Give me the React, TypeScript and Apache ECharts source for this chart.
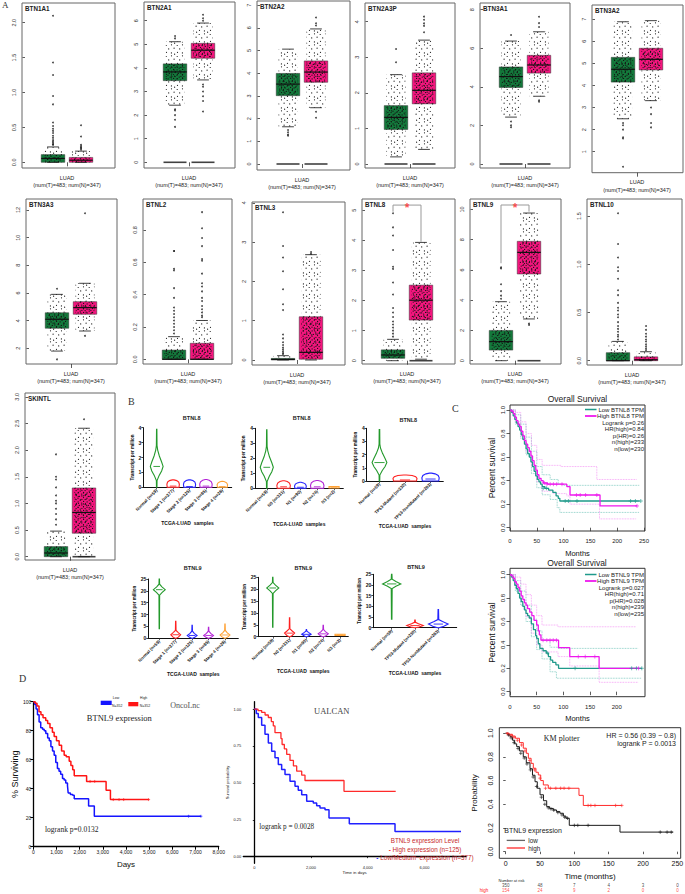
import React, { useEffect, useRef } from "react";
import * as echarts from "echarts";

/* ======================= DATA ======================= */
// ---- Panel A: GEPIA box plots, LUAD (T = tumour, green; N = normal, pink)
const geneNames = ["BTN1A1", "BTN2A1", "BTN2A2", "BTN2A3P", "BTN3A1", "BTN3A2", "BTN3A3", "BTNL2", "BTNL3", "BTNL8", "BTNL9", "BTNL10", "SKINTL"];
// [lower whisker, Q1, median, Q3, upper whisker]
const tumourBoxes = [
  [0, 0, 0.055, 0.11, 0.22],
  [2.42, 3.46, 3.83, 4.17, 5.11],
  [1.64, 3.01, 3.52, 3.99, 5.06],
  [0.2, 0.97, 1.31, 1.64, 2.51],
  [2.43, 3.97, 4.53, 5.03, 6.37],
  [2.49, 4.15, 4.73, 5.27, 6.88],
  [1.8, 3.45, 4.1, 4.57, 5.9],
  [0, 0, 0, 0.057, 0.14],
  [0, 0, 0.015, 0.04, 0.11],
  [0, 0.08, 0.19, 0.36, 0.71],
  [0, 0.7, 1.26, 2.0, 3.9],
  [0, 0, 0, 0.083, 0.2],
  [0, 0, 0.07, 0.19, 0.48],
];
const normalBoxes = [
  [0, 0, 0.03, 0.07, 0.16],
  [3.49, 4.41, 4.75, 5.04, 5.9],
  [2.48, 3.6, 4.05, 4.54, 5.95],
  [0.41, 1.69, 2.07, 2.56, 3.48],
  [3.51, 4.71, 5.13, 5.63, 6.85],
  [3.31, 4.7, 5.18, 5.68, 6.93],
  [3.25, 4.46, 4.94, 5.37, 6.7],
  [0, 0, 0, 0.099, 0.24],
  [0, 0.02, 0.195, 1.1, 2.68],
  [0.05, 1.35, 2.01, 2.51, 3.93],
  [2.76, 5.73, 7.16, 7.89, 9.76],
  [0, 0, 0.01, 0.04, 0.093],
  [0, 0.44, 0.83, 1.29, 2.41],
];
const tumourOutliers = [
  [2.1, 1.43, 1.25, 0.95, 0.83, 0.57, 0.52, 0.48, 0.45, 0.42, 0.38, 0.35, 0.32, 0.3, 0.28, 0.26, 0.25],
  [5.35, 5.25, 2.25, 2.2, 2.0, 1.8, 1.5],
  [1.5, 1.4, 1.3, 1.25],
  [3.23, 2.86],
  [6.68, 2.2, 2.0, 1.9],
  [2.3, 2.2, 2.0, 1.65, 1.6, 0.32],
  [6.3, 1.2],
  [0.67, 0.67, 0.56, 0.55, 0.44, 0.38, 0.32, 0.3, 0.28, 0.26, 0.24, 0.22, 0.2, 0.18, 0.16],
  [3.76, 2.9, 2.61, 2.26, 1.8, 1.42, 1.27, 0.65, 0.55, 0.45, 0.38, 0.32, 0.27, 0.22, 0.18, 0.15],
  [4.9, 4.43, 4.16, 3.68, 3.12, 3.05, 2.6, 2.2, 1.75, 1.6, 1.45, 1.3, 1.2, 1.1, 1.0, 0.9, 0.8],
  [6.17, 6.1, 5.05, 4.6, 4.3, 4.1],
  [1.53, 1.21, 1.07, 0.97, 0.93, 0.85, 0.73, 0.68, 0.6, 0.55, 0.52, 0.48, 0.45, 0.4, 0.36, 0.33, 0.3, 0.27, 0.25, 0.22],
  [1.92, 1.5, 1.45, 1.3, 1.15, 1.05, 1.0, 0.9, 0.8, 0.7, 0.6],
];
const normalOutliers = [
  [0.53, 0.37, 0.25, 0.23, 0.21, 0.2, 0.18],
  [6.25, 6.1, 6.0, 3.3, 3.2, 3.0, 2.8, 2.6, 2.15],
  [6.45, 6.2, 6.1, 2.3, 2.04],
  [4.14, 4.05, 3.95, 3.88, 3.7],
  [7.63, 7.3, 7.1, 3.3, 3.23],
  [3.0, 2.7, 2.3, 2.1],
  [11.76, 2.9],
  [0.91, 0.81, 0.75, 0.7, 0.62, 0.61, 0.53, 0.47, 0.45, 0.42, 0.38, 0.36, 0.33, 0.31, 0.29, 0.27, 0.26],
  [2.75, 2.7],
  [],
  [2.36, 2.45],
  [0.36, 0.32, 0.28, 0.25, 0.22, 0.2, 0.17, 0.15, 0.13, 0.11],
  [2.58],
];
// 1 = a bar drawn at value 0 under the box [tumour, normal]
const zeroBars = [[0, 0], [1, 1], [1, 1], [1, 1], [1, 1], [0, 0], [0, 0], [0, 0], [0, 0], [0, 1], [0, 1], [0, 0], [0, 1]];
const boxTickValues = [
  [0, 0.5, 1, 1.5, 2], [0, 1, 2, 3, 4, 5, 6], [0, 1, 2, 3, 4, 5, 6, 7], [0, 1, 2, 3, 4], [0, 2, 4, 6, 8], [1, 2, 3, 4, 5, 6, 7],
  [2, 4, 6, 8, 10, 12], [0, 0.2, 0.4, 0.6, 0.8], [0, 1, 2, 3, 4], [0, 1, 2, 3, 4, 5], [0, 2, 4, 6, 8, 10], [0, 0.5, 1, 1.5],
  [0, 0.5, 1, 1.5, 2, 2.5, 3],
];
const boxTickDecimals = [1, 0, 0, 0, 0, 0, 0, 1, 0, 0, 0, 1, 1];
const sampleLabel = "LUAD\n(num(T)=483; num(N)=347)";
const bracketBTNL8 = [[1, 4.95], [1, 5.17], [2, 5.17], [2, 3.95]];
const bracketBTNL9 = [[1, 6.44], [1, 10.29], [2, 10.29], [2, 9.85]];
const starBTNL8 = [[1.5, 5.17]];
const starBTNL9 = [[1.5, 10.29]];

// ---- Panel B: UALCAN violins, [value, half-width] profiles
const stageCats = ["Normal (n=59)", "Stage 1 (n=277)", "Stage 2 (n=125)", "Stage 3 (n=85)", "Stage 4 (n=28)"];
const nodalCats = ["Normal (n=59)", "N0 (n=331)", "N1 (n=90)", "N2 (n=74)", "N3 (n=2)"];
const tp53Cats = ["Normal (n=59)", "TP53-Mutant (n=230)", "TP53-NonMutant (n=283)"];
const btnl8Normal = [[0, 0.015], [0.45, 0.02], [0.8, 0.15], [1.1, 0.3], [1.4, 0.39], [1.7, 0.3], [2.1, 0.16], [2.5, 0.06], [2.8, 0.02], [3.9, 0.01]];
const btnl8NormalTp = [[0, 0.01], [0.45, 0.015], [0.8, 0.11], [1.1, 0.22], [1.4, 0.29], [1.7, 0.22], [2.1, 0.12], [2.5, 0.04], [2.8, 0.015], [3.9, 0.01]];
const btnl8StageProfiles = [
  btnl8Normal,
  [[0, 0.36], [0.2, 0.38], [0.35, 0.34], [0.45, 0.22], [0.5, 0.05]],
  [[0, 0.35], [0.2, 0.37], [0.35, 0.33], [0.45, 0.2], [0.5, 0.05]],
  [[0, 0.36], [0.22, 0.38], [0.37, 0.33], [0.47, 0.2], [0.52, 0.05]],
  [[0, 0.3], [0.18, 0.32], [0.3, 0.26], [0.37, 0.14], [0.4, 0.03]],
];
const btnl8StageMedians = [1.4, 0.08, 0.05, 0.08, 0.05];
const btnl8NodalProfiles = [
  btnl8Normal,
  [[0, 0.38], [0.2, 0.4], [0.35, 0.35], [0.45, 0.22], [0.5, 0.05]],
  [[0, 0.33], [0.15, 0.35], [0.28, 0.3], [0.36, 0.18], [0.4, 0.04]],
  [[0, 0.38], [0.2, 0.4], [0.37, 0.35], [0.47, 0.22], [0.52, 0.05]],
  [[0.02, 0.3], [0.12, 0.3]],
];
const btnl8NodalMedians = [1.4, 0.1, 0.07, 0.1, 0.08];
const btnl8Tp53Profiles = [
  btnl8NormalTp,
  [[0, 0.45], [0.2, 0.47], [0.33, 0.42], [0.42, 0.28], [0.46, 0.05]],
  [[0, 0.32], [0.25, 0.34], [0.42, 0.3], [0.54, 0.18], [0.6, 0.04]],
];
const btnl8Tp53Medians = [1.4, 0.08, 0.15];
const btnl9Normal = [[4, 0.01], [18.2, 0.02], [19.3, 0.16], [20.5, 0.36], [21.7, 0.16], [22.8, 0.02], [25, 0.01]];
const btnl9NormalTp = [[4, 0.01], [18.3, 0.02], [19.4, 0.18], [20.5, 0.39], [21.6, 0.18], [22.7, 0.02], [25, 0.01]];
const btnl9StageProfiles = [
  btnl9Normal,
  [[0, 0.03], [0.5, 0.16], [1.5, 0.3], [2.5, 0.14], [3.3, 0.02], [7.2, 0.01]],
  [[0, 0.03], [0.4, 0.16], [1.2, 0.3], [2.1, 0.13], [3.0, 0.02], [5.5, 0.01]],
  [[0, 0.03], [0.4, 0.16], [1.2, 0.3], [2.1, 0.13], [3.0, 0.02], [4.6, 0.01]],
  [[0, 0.03], [0.5, 0.16], [1.4, 0.3], [2.4, 0.13], [3.3, 0.02], [6.0, 0.01]],
];
const btnl9StageMedians = [20.5, 1.5, 1.2, 1.2, 1.4];
const btnl9NodalProfiles = [
  btnl9Normal,
  [[0, 0.03], [0.5, 0.16], [1.5, 0.3], [2.5, 0.14], [3.3, 0.02], [8.0, 0.01]],
  [[0, 0.03], [0.4, 0.14], [1.0, 0.28], [1.8, 0.12], [2.3, 0.03], [3.0, 0.01]],
  [[0, 0.03], [0.4, 0.16], [1.2, 0.3], [2.1, 0.13], [3.0, 0.02], [4.8, 0.01]],
  [[0.5, 0.3], [1.0, 0.3]],
];
const btnl9NodalMedians = [20.5, 1.5, 1.0, 1.2, 0.75];
const btnl9Tp53Profiles = [
  btnl9NormalTp,
  [[0, 0.03], [0.3, 0.18], [1.0, 0.35], [1.8, 0.15], [2.5, 0.02], [3.6, 0.01]],
  [[0, 0.03], [0.5, 0.2], [1.7, 0.42], [2.9, 0.18], [3.8, 0.02], [8.5, 0.01]],
];
const btnl9Tp53Medians = [20.5, 1.0, 1.7];

// ---- Panel C: GEPIA overall survival (months, probability)
const c1Low = [[0, 1], [3, 0.98], [6, 0.95], [9, 0.92], [12, 0.89], [15, 0.86], [18, 0.83], [21, 0.79], [24, 0.75], [27, 0.71], [30, 0.67], [33, 0.63], [36, 0.6], [39, 0.56], [42, 0.52], [45, 0.48], [48, 0.44], [51, 0.41], [54, 0.39], [57, 0.37], [60, 0.35], [65, 0.335], [72, 0.32], [80, 0.3], [86, 0.27], [90, 0.25], [93, 0.227], [242, 0.227]];
const c1High = [[0, 1], [3, 0.99], [6, 0.97], [9, 0.94], [12, 0.91], [15, 0.88], [18, 0.86], [21, 0.82], [24, 0.78], [27, 0.74], [30, 0.71], [33, 0.68], [36, 0.65], [39, 0.61], [42, 0.57], [45, 0.53], [48, 0.49], [51, 0.45], [54, 0.42], [58, 0.4], [62, 0.38], [70, 0.37], [106, 0.35], [112, 0.278], [168, 0.185], [237, 0.185]];
const c1LowUpper = [[0, 1], [10, 0.96], [20, 0.88], [30, 0.77], [40, 0.65], [50, 0.52], [60, 0.45], [75, 0.41], [90, 0.37], [100, 0.36], [242, 0.36]];
const c1LowLower = [[0, 1], [10, 0.88], [20, 0.76], [30, 0.62], [40, 0.46], [50, 0.34], [60, 0.28], [75, 0.24], [88, 0.17], [93, 0.13], [242, 0.13]];
const c1HighUpper = [[0, 1], [10, 0.98], [20, 0.9], [30, 0.8], [40, 0.7], [50, 0.58], [60, 0.53], [95, 0.52], [162, 0.41], [236, 0.41]];
const c1HighLower = [[0, 1], [10, 0.9], [20, 0.78], [30, 0.64], [40, 0.52], [50, 0.39], [60, 0.31], [80, 0.29], [106, 0.27], [112, 0.2], [167, 0.075], [236, 0.075]];
const c1LowCensor = [[62, 0.335], [68, 0.335], [103, 0.227], [109, 0.227], [125, 0.227], [225, 0.227], [234, 0.227], [244, 0.227]];
const c1HighCensor = [[64, 0.38], [69, 0.37], [75, 0.37], [81, 0.37], [87, 0.37], [97, 0.37], [124, 0.278], [131, 0.278], [141, 0.278], [162, 0.278], [237, 0.185]];

const c2Low = [[0, 1], [3, 0.98], [6, 0.95], [9, 0.91], [12, 0.88], [15, 0.84], [18, 0.8], [21, 0.77], [24, 0.73], [27, 0.7], [30, 0.67], [33, 0.65], [36, 0.63], [40, 0.58], [44, 0.53], [48, 0.48], [50, 0.456], [53, 0.41], [56, 0.37], [62, 0.35], [68, 0.33], [72, 0.3], [76, 0.27], [80, 0.25], [86, 0.23], [91, 0.2], [247, 0.2]];
const c2High = [[0, 1], [3, 0.99], [6, 0.97], [9, 0.94], [12, 0.92], [15, 0.89], [18, 0.86], [21, 0.82], [24, 0.79], [27, 0.76], [30, 0.74], [33, 0.71], [37, 0.68], [41, 0.65], [45, 0.61], [50, 0.57], [53, 0.52], [55, 0.485], [58, 0.44], [91, 0.376], [112, 0.3], [167, 0.2], [241, 0.2]];
const c2LowUpper = [[0, 1], [10, 0.95], [20, 0.86], [30, 0.74], [40, 0.62], [50, 0.52], [60, 0.44], [75, 0.38], [90, 0.37], [240, 0.37]];
const c2LowLower = [[0, 1], [10, 0.86], [20, 0.74], [30, 0.6], [40, 0.47], [50, 0.36], [60, 0.28], [75, 0.17], [87, 0.115], [247, 0.115]];
const c2HighUpper = [[0, 1], [10, 0.98], [20, 0.92], [30, 0.83], [40, 0.74], [50, 0.65], [60, 0.57], [90, 0.555], [236, 0.555]];
const c2HighLower = [[0, 1], [10, 0.9], [20, 0.78], [30, 0.64], [40, 0.5], [50, 0.4], [60, 0.34], [90, 0.3], [112, 0.22], [167, 0.08], [240, 0.08]];
const c2LowCensor = [[70, 0.33], [122, 0.2], [228, 0.2], [237, 0.2], [247, 0.2]];
const c2HighCensor = [[62, 0.44], [69, 0.44], [75, 0.44], [81, 0.44], [87, 0.44], [128, 0.3], [141, 0.3], [159, 0.3], [241, 0.2]];

// ---- Panel D
// OncoLnc (days, % surviving)
const d1Low = [[0, 100], [60, 98], [120, 95], [180, 91], [250, 86], [320, 82], [400, 81], [470, 80], [540, 78], [620, 75], [690, 73], [760, 69], [830, 66], [900, 63], [970, 58], [1040, 54], [1110, 52], [1180, 50], [1260, 47], [1330, 46], [1400, 44], [1475, 42], [1505, 37], [1600, 36], [1700, 35.5], [1766, 33], [2386, 28], [2633, 21], [7232, 21]];
const d1High = [[0, 100], [80, 99], [160, 97], [247, 93], [330, 91], [420, 89], [537, 87], [620, 85], [720, 82], [824, 79], [900, 76], [1000, 73], [1115, 70], [1220, 66], [1332, 63], [1420, 62], [1549, 59], [1622, 56], [1700, 53], [1766, 49], [2300, 45], [3141, 39], [3328, 32.5], [4976, 32.5]];
const d1LowCensor = [[6700, 21], [7232, 21]];
const d1HighCensor = [[2450, 45], [2650, 45], [3450, 32.5], [3700, 32.5], [3900, 32.5], [4976, 32.5]];
// UALCAN (days, probability)
const d2High = [[0, 1], [130, 0.99], [261, 0.977], [380, 0.96], [494, 0.943], [600, 0.915], [670, 0.886], [730, 0.84], [940, 0.8], [980, 0.76], [1060, 0.73], [1143, 0.693], [1259, 0.652], [1380, 0.615], [1495, 0.579], [1672, 0.552], [1788, 0.516], [3164, 0.443], [4988, 0.443]];
const d2Low = [[0, 1], [70, 0.97], [141, 0.943], [260, 0.89], [377, 0.829], [495, 0.77], [613, 0.715], [730, 0.67], [847, 0.625], [965, 0.59], [1083, 0.557], [1259, 0.511], [1436, 0.477], [1550, 0.45], [1672, 0.42], [1848, 0.375], [2081, 0.364], [2200, 0.345], [2317, 0.33], [2494, 0.318], [2635, 0.262], [3351, 0.223], [4963, 0.17], [7291, 0.17]];
// KM plotter (months, probability)
const d3Low = [[0, 1], [3, 0.985], [6.3, 0.97], [10, 0.94], [13, 0.91], [16, 0.886], [20, 0.85], [25.6, 0.8], [30, 0.75], [35.4, 0.7], [39, 0.645], [42.7, 0.59], [46, 0.535], [50, 0.48], [55, 0.43], [59.7, 0.38], [64, 0.365], [69.3, 0.352], [74, 0.338], [79, 0.324], [84, 0.3], [87.8, 0.282], [92.6, 0.222], [166.4, 0.165], [244, 0.165]];
const d3High = [[0, 1], [5, 0.99], [10, 0.975], [14, 0.957], [20, 0.92], [25.6, 0.873], [30, 0.83], [33, 0.788], [37, 0.745], [40.2, 0.704], [44, 0.67], [47.5, 0.647], [51, 0.6], [54.8, 0.563], [62, 0.535], [106.7, 0.475], [113, 0.39], [169, 0.39]];
const d3LowCensor = [[4, 0.985], [8, 0.96], [12, 0.92], [18, 0.87], [22, 0.83], [27, 0.79], [31, 0.74], [36, 0.69], [40, 0.63], [45, 0.55], [52, 0.46], [57, 0.4], [62, 0.37], [66, 0.36], [70, 0.35], [76, 0.33], [82, 0.31], [86, 0.29], [90, 0.282], [100, 0.222], [105, 0.222], [120, 0.222], [225, 0.165], [235, 0.165], [241, 0.165]];
const d3HighCensor = [[3, 0.995], [8, 0.98], [12, 0.965], [17, 0.94], [23, 0.9], [28, 0.85], [35, 0.77], [42, 0.69], [50, 0.62], [58, 0.535], [65, 0.535], [73, 0.535], [80, 0.535], [85, 0.535], [92, 0.535], [120, 0.39], [124, 0.39], [130, 0.39], [160, 0.39], [169, 0.39]];
const riskTimes = [0, 50, 100, 150, 200, 250];
const riskLow = [350, 48, 7, 4, 3, 0];
const riskHigh = [154, 24, 9, 2, 0, 0];

/* ======================= LAYOUT & STYLE ======================= */
const SANS = "'Liberation Sans', Arial, Helvetica, sans-serif";
const SERIF = "'Liberation Serif', 'Times New Roman', serif";
const GREEN = "#13793b";
const PINK = "#f4157e";
const TEAL = "#1f9a8b";
const MAGENTA = "#ee18ee";
const TEAL_CI = "#6cc3b8";
const MAGENTA_CI = "#f48ef4";
const VIOLIN5 = ["#23992b", "#ff2020", "#2323ff", "#b324d6", "#ffa235"];
const VIOLIN3 = ["#23992b", "#ff2020", "#2323ff"];

// [left, top, right, bottom] of each GEPIA frame
const boxFrames = [
  [22, 3, 115, 168], [144, 2, 235, 168], [257, 1, 350, 170], [365, 3, 455, 168], [480, 3, 570, 168], [592, 5, 683, 172.7],
  [26, 199, 117, 364], [143, 199, 232, 364], [252, 202, 345, 365], [362, 199, 455, 364], [470, 199, 561, 364], [587, 199, 682, 365],
  [25, 393, 115, 560],
];
// [pixel y of reference value, reference value, pixels per unit]
const boxYCal = [
  [162.3, 0, 69.8], [162.3, 0, 23.6], [164, 0, 22.7], [164, 0, 35.6], [164, 0, 19.3], [151.7, 1, 22.1],
  [348.3, 2, 13.83], [359.3, 0, 161.7], [360, 0, 39.3], [360.7, 0, 30.1], [360.7, 0, 15.13], [360.7, 0, 96.4],
  [556.7, 0, 53.3],
];
const BOX_OFFSET = 31;
const BOX_SPACING = 28;
const BOX_HALF = 0.42;
const JITTER_HALF = 0.34;
const CAP_HALF = 0.21;

// violin grids [left, top, right, bottom, xmin, xmax, ymax]
const violinLayout = [
  [143.3, 427.7, 231.7, 487.3, 0.183, 5.57, 4],
  [255, 428.3, 343.3, 488.3, 0.3, 5.55, 4],
  [366.7, 428.3, 443.3, 481, 0.5, 3.5, 4],
  [148.3, 579, 238.3, 638.3, 0.33, 5.81, 25],
  [258.3, 577.3, 348.3, 636.7, 0.14, 5.49, 25],
  [373.3, 574.3, 456.7, 627.7, 0.21, 3.79, 25],
];
const violinNameGap = [33, 33, 42, 33, 32, 42];

const dotTile = (size: number, dots: number[][], r: number) => ({
  image:
    "data:image/svg+xml;charset=utf-8," +
    encodeURIComponent(
      `<svg xmlns="http://www.w3.org/2000/svg" width="${size}" height="${size}">` +
        dots.map(([x, y]) => `<circle cx="${x}" cy="${y}" r="${r}" fill="#111"/>`).join("") +
        `</svg>`
    ),
  repeat: "repeat",
  imageWidth: size,
  imageHeight: size,
});
const DENSE = dotTile(
  9,
  [[0.8, 0.9], [4.2, 0.5], [7.3, 1.4], [2.5, 2.6], [6.0, 3.2], [0.9, 4.3], [4.1, 4.6], [8.2, 5.1], [2.6, 6.4], [6.1, 6.9], [0.7, 8.1], [4.4, 8.3]],
  0.65
);
const SPARSE = dotTile(11, [[1.2, 1.5], [6.5, 0.8], [3.7, 4.9], [9.1, 4.2], [1.5, 8.3], [6.4, 8.9], [9.6, 10.2]], 0.6);
const PLUS = "path://M5,0L5,10M0,5L10,5";

/* ======================= BUILD ======================= */
function boxRender(_p: any, api: any) {
  const x = api.value(0);
  const lo = api.value(1), q1 = api.value(2), med = api.value(3), q3 = api.value(4), hi = api.value(5);
  const color = api.value(6) === 0 ? GREEN : PINK;
  const pm = api.coord([x, med]);
  const cx = pm[0];
  const yLo = api.coord([x, lo])[1], yQ1 = api.coord([x, q1])[1], yQ3 = api.coord([x, q3])[1], yHi = api.coord([x, hi])[1];
  const hw = api.size([BOX_HALF, 0])[0];
  const jw = api.size([JITTER_HALF, 0])[0];
  const cw = api.size([CAP_HALF, 0])[0];
  return {
    type: "group",
    children: [
      { type: "rect", shape: { x: cx - hw, y: yQ3, width: 2 * hw, height: Math.max(yQ1 - yQ3, 0.8) }, style: { fill: color, stroke: "#333", lineWidth: 0.5 } },
      { type: "rect", shape: { x: cx - jw, y: yHi, width: 2 * jw, height: Math.max(yLo - yHi, 0.5) }, style: { fill: SPARSE } },
      { type: "rect", shape: { x: cx - jw, y: yQ3, width: 2 * jw, height: Math.max(yQ1 - yQ3, 0.5) }, style: { fill: DENSE } },
      { type: "line", shape: { x1: cx - hw, y1: pm[1], x2: cx + hw, y2: pm[1] }, style: { stroke: "#111", lineWidth: 1.2 } },
      { type: "line", shape: { x1: cx - cw, y1: yHi, x2: cx + cw, y2: yHi }, style: { stroke: "#111", lineWidth: 0.8 } },
      { type: "line", shape: { x1: cx - cw, y1: yLo, x2: cx + cw, y2: yLo }, style: { stroke: "#111", lineWidth: 0.8 } },
    ],
  };
}

function violinRender(profiles: number[][][], colors: string[]) {
  return (_p: any, api: any) => {
    const x = api.value(0);
    const med = api.value(1);
    const idx = api.value(2);
    const prof = profiles[idx];
    const left = prof.map(([v, w]) => api.coord([x - w, v]));
    const right = prof.slice().reverse().map(([v, w]) => api.coord([x + w, v]));
    const m1 = api.coord([x - 0.2, med]);
    const m2 = api.coord([x + 0.2, med]);
    return {
      type: "group",
      children: [
        { type: "polygon", shape: { points: left.concat(right) }, style: { fill: "#fff", stroke: colors[idx], lineWidth: 1.1 } },
        { type: "line", shape: { x1: m1[0], y1: m1[1], x2: m2[0], y2: m2[1] }, style: { stroke: colors[idx], lineWidth: 0.9 } },
      ],
    };
  };
}

function buildOption() {
  const grids: any[] = [];
  const xAxes: any[] = [];
  const yAxes: any[] = [];
  const series: any[] = [];
  const graphics: any[] = [];

  const addGrid = (l: number, t: number, r: number, b: number, x: any, y: any, border?: string) => {
    const i = grids.length;
    grids.push({
      left: l, top: t, width: r - l, height: b - t,
      containLabel: false, outerBoundsMode: "none",
      show: !!border, borderColor: border || "transparent", borderWidth: 1, backgroundColor: "transparent",
    });
    xAxes.push({ gridIndex: i, splitLine: { show: false }, ...x });
    yAxes.push({ gridIndex: i, splitLine: { show: false }, ...y });
    return i;
  };
  const T = (text: string, x: number, y: number, o: any = {}) => ({
    type: "text", x, y, rotation: o.rot || 0, silent: true, z: 50,
    style: {
      text, fontSize: o.size || 7, fontFamily: o.serif ? SERIF : SANS, fontWeight: o.bold ? "bold" : "normal",
      fill: o.color || "#222", align: o.align || "center", verticalAlign: o.va || "middle", rich: o.rich,
    },
  });
  const L = (x1: number, y1: number, x2: number, y2: number, color: string, w = 1) => ({
    type: "line", silent: true, z: 50, shape: { x1, y1, x2, y2 }, style: { stroke: color, lineWidth: w },
  });
  const kmLine = (gi: number, data: number[][], color: string, width: number, dotted = false) => ({
    type: "line", xAxisIndex: gi, yAxisIndex: gi, data, step: "end", showSymbol: false, symbol: "none", silent: true,
    lineStyle: { color, width, type: dotted ? "dotted" : "solid" }, z: dotted ? 2 : 3,
  });
  const censor = (gi: number, data: number[][], color: string, size = 4) => ({
    type: "scatter", xAxisIndex: gi, yAxisIndex: gi, data, symbol: PLUS, symbolSize: size, silent: true,
    itemStyle: { color: "rgba(0,0,0,0)", borderColor: color, borderWidth: 0.8 }, z: 4,
  });
  const tickStyle = (len: number, vals?: number[]) => ({ show: true, length: len, customValues: vals, lineStyle: { color: "#333", width: 0.8 } });

  /* ---------- Panel A ---------- */
  geneNames.forEach((g, i) => {
    const [l, t, r, b] = boxFrames[i];
    const [py, v0, ppu] = boxYCal[i];
    const ymin = v0 - (b - py) / ppu;
    const ymax = v0 + (py - t) / ppu;
    const xmin = 1 - BOX_OFFSET / BOX_SPACING;
    const xmax = xmin + (r - l) / BOX_SPACING;
    const gi = addGrid(
      l, t, r, b,
      {
        type: "value", min: xmin, max: xmax, axisLine: { show: false },
        axisTick: tickStyle(4, [1.5]),
        axisLabel: { customValues: [1.5], formatter: () => sampleLabel, fontSize: 5.5, lineHeight: 7.5, margin: 6, color: "#222", fontFamily: SANS },
      },
      {
        type: "value", min: ymin, max: ymax, axisLine: { show: false },
        axisTick: tickStyle(2.5, boxTickValues[i]),
        axisLabel: {
          customValues: boxTickValues[i], rotate: 90, fontSize: 5.5, margin: 5, color: "#333", fontFamily: SANS,
          formatter: (v: number) => v.toFixed(boxTickDecimals[i]),
        },
      },
      "#666"
    );
    series.push({
      type: "custom", xAxisIndex: gi, yAxisIndex: gi, renderItem: boxRender, clip: false, silent: true, z: 2,
      data: [[1, ...tumourBoxes[i], 0], [2, ...normalBoxes[i], 1]],
    });
    const zb: number[][] = [];
    if (zeroBars[i][0]) zb.push([1, 0]);
    if (zeroBars[i][1]) zb.push([2, 0]);
    if (zb.length) {
      series.push({ type: "scatter", xAxisIndex: gi, yAxisIndex: gi, symbol: "rect", symbolSize: [23, 1.6], itemStyle: { color: "#111" }, data: zb, silent: true, z: 3 });
    }
    series.push({
      type: "scatter", xAxisIndex: gi, yAxisIndex: gi, symbolSize: 1.8, itemStyle: { color: "#111" }, silent: true, z: 4,
      data: [...tumourOutliers[i].map((v) => [1, v]), ...normalOutliers[i].map((v) => [2, v])],
    });
    graphics.push(T(g, l + 3, t + 5.5, { size: 6.3, bold: true, align: "left" }));

    if (g === "BTNL8" || g === "BTNL9") {
      series.push({
        type: "line", xAxisIndex: gi, yAxisIndex: gi, data: g === "BTNL8" ? bracketBTNL8 : bracketBTNL9,
        showSymbol: false, symbol: "none", silent: true, lineStyle: { color: "#999", width: 1 }, z: 5,
      });
      series.push({
        type: "scatter", xAxisIndex: gi, yAxisIndex: gi, data: g === "BTNL8" ? starBTNL8 : starBTNL9, symbolSize: 1,
        itemStyle: { color: "rgba(0,0,0,0)" }, silent: true, z: 6,
        label: { show: true, position: "inside", formatter: "*", color: "#ff2a2a", fontSize: 12, fontWeight: "bold", offset: [0, 3] },
      });
    }
  });

  /* ---------- Panel B ---------- */
  const violinSets = [
    { cats: stageCats, prof: btnl8StageProfiles, med: btnl8StageMedians, colors: VIOLIN5 },
    { cats: nodalCats, prof: btnl8NodalProfiles, med: btnl8NodalMedians, colors: VIOLIN5 },
    { cats: tp53Cats, prof: btnl8Tp53Profiles, med: btnl8Tp53Medians, colors: VIOLIN3 },
    { cats: stageCats, prof: btnl9StageProfiles, med: btnl9StageMedians, colors: VIOLIN5 },
    { cats: nodalCats, prof: btnl9NodalProfiles, med: btnl9NodalMedians, colors: VIOLIN5 },
    { cats: tp53Cats, prof: btnl9Tp53Profiles, med: btnl9Tp53Medians, colors: VIOLIN3 },
  ];
  violinSets.forEach((vs, k) => {
    const [l, t, r, b, xmin, xmax, ymax] = violinLayout[k];
    const pos = vs.cats.map((_, i) => i + 1);
    const gi = addGrid(
      l, t, r, b,
      {
        type: "value", min: xmin, max: xmax,
        axisLine: { show: true, lineStyle: { color: "#111", width: 1 } },
        axisTick: tickStyle(2, pos),
        axisLabel: {
          customValues: pos, rotate: 45, fontSize: 4.3, fontWeight: "bold", margin: 2.5, color: "#111", fontFamily: SANS,
          formatter: (v: number) => vs.cats[Math.round(v) - 1],
        },
        name: "TCGA-LUAD  samples", nameLocation: "middle", nameGap: violinNameGap[k],
        nameTextStyle: { fontSize: 5, fontWeight: "bold", color: "#111", fontFamily: SANS },
      },
      {
        type: "value", min: 0, max: ymax, interval: ymax === 4 ? 1 : 5,
        axisLine: { show: true, lineStyle: { color: "#111", width: 1 } },
        axisTick: { show: true, length: 2, lineStyle: { color: "#111", width: 0.8 } },
        axisLabel: { fontSize: 5, fontWeight: "bold", margin: 2, color: "#111", fontFamily: SANS },
        name: "Transcript per million", nameLocation: "middle", nameGap: ymax === 4 ? 7 : 10,
        nameTextStyle: { fontSize: 4.5, fontWeight: "bold", color: "#111", fontFamily: SANS },
      }
    );
    series.push({
      type: "custom", xAxisIndex: gi, yAxisIndex: gi, renderItem: violinRender(vs.prof, vs.colors), clip: false, silent: true,
      data: pos.map((p, i) => [p, vs.med[i], i]),
    });
  });
  graphics.push(T("BTNL8", 191.7, 418.3, { size: 5.5, bold: true }));
  graphics.push(T("BTNL8", 301.7, 418.3, { size: 5.5, bold: true }));
  graphics.push(T("BTNL8", 408.3, 420, { size: 5.5, bold: true }));
  graphics.push(T("BTNL9", 192.7, 568.3, { size: 5.5, bold: true }));
  graphics.push(T("BTNL9", 303.3, 568.3, { size: 5.5, bold: true }));
  graphics.push(T("BTNL9", 416, 566.7, { size: 5.5, bold: true }));

  /* ---------- Panel C ---------- */
  const cAxisX = (max: number, ticks: number[]) => ({
    type: "value", min: 0, max, axisLine: { show: false },
    axisTick: tickStyle(3.5, ticks),
    axisLabel: { customValues: ticks, fontSize: 6, margin: 7, color: "#222", fontFamily: SANS },
    name: "Months", nameLocation: "middle", nameGap: 18, nameTextStyle: { fontSize: 7.5, color: "#111", fontFamily: SANS },
  });
  const cAxisY = (min: number, max: number) => ({
    type: "value", min, max, axisLine: { show: false },
    axisTick: tickStyle(3.5, [0, 0.2, 0.4, 0.6, 0.8, 1]),
    axisLabel: { customValues: [0, 0.2, 0.4, 0.6, 0.8, 1], rotate: 90, fontSize: 6, margin: 4, color: "#222", fontFamily: SANS, formatter: (v: number) => v.toFixed(1) },
    name: "Percent survival", nameLocation: "middle", nameGap: 14, nameTextStyle: { fontSize: 8.5, color: "#111", fontFamily: SANS },
  });
  const c1 = addGrid(510, 405, 645, 531, cAxisX(251.9, [0, 50, 100, 150, 200, 250]), cAxisY(-0.028, 1.043), "#333");
  series.push(kmLine(c1, c1LowUpper, TEAL_CI, 0.8, true), kmLine(c1, c1LowLower, TEAL_CI, 0.8, true));
  series.push(kmLine(c1, c1HighUpper, MAGENTA_CI, 0.8, true), kmLine(c1, c1HighLower, MAGENTA_CI, 0.8, true));
  series.push(kmLine(c1, c1Low, TEAL, 1.3), kmLine(c1, c1High, MAGENTA, 1.3));
  series.push(censor(c1, c1LowCensor, TEAL, 4), censor(c1, c1HighCensor, MAGENTA, 4));

  const c2 = addGrid(510, 568.3, 645, 696.7, cAxisX(253, [0, 50, 100, 150, 200]), cAxisY(-0.043, 1.055), "#333");
  series.push(kmLine(c2, c2LowUpper, TEAL_CI, 0.8, true), kmLine(c2, c2LowLower, TEAL_CI, 0.8, true));
  series.push(kmLine(c2, c2HighUpper, MAGENTA_CI, 0.8, true), kmLine(c2, c2HighLower, MAGENTA_CI, 0.8, true));
  series.push(kmLine(c2, c2Low, TEAL, 1.3), kmLine(c2, c2High, MAGENTA, 1.3));
  series.push(censor(c2, c2LowCensor, TEAL, 4), censor(c2, c2HighCensor, MAGENTA, 4));

  graphics.push(T("Overall Survival", 577.5, 399, { size: 8.5 }));
  graphics.push(T("Overall Survival", 577, 563, { size: 8.5 }));
  const cLegend = (y0: number, gene: string, stats: string[]) => {
    graphics.push(L(585, y0, 596.5, y0, TEAL, 1.5));
    graphics.push(T(`Low ${gene} TPM`, 644, y0, { size: 6, align: "right" }));
    graphics.push(L(585, y0 + 6.5, 596.5, y0 + 6.5, MAGENTA, 1.8));
    graphics.push(T(`High ${gene} TPM`, 644, y0 + 6.5, { size: 6, align: "right" }));
    stats.forEach((s, i) => graphics.push(T(s, 644, y0 + 13 + 6.5 * i, { size: 6, align: "right" })));
  };
  cLegend(409.5, "BTNL8", ["Logrank p=0.26", "HR(high)=0.84", "p(HR)=0.26", "n(high)=233", "n(low)=230"]);
  cLegend(574.5, "BTNL9", ["Logrank p=0.027", "HR(high)=0.71", "p(HR)=0.028", "n(high)=239", "n(low)=235"]);

  /* ---------- Panel D ---------- */
  const blackAxis = { show: true, lineStyle: { color: "#000", width: 1.3 } };
  const d1 = addGrid(
    33.3, 701.7, 218.7, 846.7,
    {
      type: "value", min: 0, max: 8000, interval: 1000, axisLine: blackAxis,
      axisTick: { show: true, length: 3, lineStyle: { color: "#000", width: 1 } },
      axisLabel: { fontSize: 5, margin: 3, color: "#111", fontFamily: SANS },
      name: "Days", nameLocation: "middle", nameGap: 14, nameTextStyle: { fontSize: 8, color: "#111", fontFamily: SANS },
    },
    {
      type: "value", min: 0, max: 100, interval: 20, axisLine: blackAxis,
      axisTick: { show: true, length: 3, lineStyle: { color: "#000", width: 1 } },
      axisLabel: { fontSize: 5, margin: 2, color: "#111", fontFamily: SANS },
      name: "% Surviving", nameLocation: "middle", nameGap: 11, nameTextStyle: { fontSize: 9, color: "#111", fontFamily: SANS },
    }
  );
  series.push(kmLine(d1, d1Low, "#1414ff", 1.5), kmLine(d1, d1High, "#ff1414", 1.5));
  series.push(censor(d1, d1LowCensor, "#1414ff", 3), censor(d1, d1HighCensor, "#ff1414", 3));
  graphics.push({ type: "rect", silent: true, z: 50, shape: { x: 100.7, y: 700.7, width: 11, height: 4.3 }, style: { fill: "#1414ff" } });
  graphics.push({ type: "rect", silent: true, z: 50, shape: { x: 128.3, y: 702, width: 10, height: 4.3 }, style: { fill: "#ff1414" } });
  graphics.push(T("Low", 116, 698.3, { size: 3.5 }), T("N=352", 117.2, 706, { size: 3.5 }));
  graphics.push(T("High", 143.7, 698.3, { size: 3.5 }), T("N=352", 145, 706, { size: 3.5 }));
  graphics.push(T("OncoLnc", 185, 705, { size: 8, serif: true, color: "#555" }));
  graphics.push(T("BTNL9 expression", 119.3, 718.3, { size: 8.5, serif: true }));
  graphics.push(T("logrank p=0.0132", 71.7, 829, { size: 7.5, serif: true }));

  const d2 = addGrid(
    243.3, 701.7, 466, 863.3,
    {
      type: "value", min: -388, max: 7467, axisLine: blackAxis,
      axisTick: { show: true, length: 1.5, customValues: [0, 2000, 4000, 6000], lineStyle: { color: "#000", width: 0.8 } },
      axisLabel: { customValues: [0, 2000, 4000, 6000], fontSize: 4, margin: 2, color: "#222", fontFamily: SANS },
      name: "Time in days", nameLocation: "middle", nameGap: 6.5, nameTextStyle: { fontSize: 4.3, color: "#222", fontFamily: SANS },
    },
    {
      type: "value", min: -0.045, max: 1.05, axisLine: blackAxis,
      axisTick: { show: true, length: 1.5, customValues: [0, 0.25, 0.5, 0.75, 1], lineStyle: { color: "#000", width: 0.8 } },
      axisLabel: { customValues: [0, 0.25, 0.5, 0.75, 1], fontSize: 4, margin: 2, color: "#222", fontFamily: SANS, formatter: (v: number) => v.toFixed(2) },
      name: "Survival probability", nameLocation: "middle", nameGap: 10, nameTextStyle: { fontSize: 4, color: "#222", fontFamily: SANS },
    }
  );
  series.push(kmLine(d2, d2Low, "#2020ff", 1.5), kmLine(d2, d2High, "#ff2a2a", 1.3));
  graphics.push(T("UALCAN", 331.7, 711, { size: 8.5, serif: true, color: "#444" }));
  graphics.push(T("logrank p = 0.0028", 286.7, 826.7, { size: 7.2, serif: true }));
  graphics.push(T("BTNL9 expression Level", 425, 840.7, { size: 6.3, color: "#c62828" }));
  graphics.push(T("{r|-} High expression (n=125)", 425, 849, { size: 6.3, color: "#c62828", rich: { r: { fill: "#ff2020", fontSize: 6.3, fontWeight: "bold" } } }));
  graphics.push(T("{b|-} Low/Medium\u2212expression (n=377)", 425, 857.3, { size: 6.3, color: "#c62828", rich: { b: { fill: "#2020ff", fontSize: 6.3, fontWeight: "bold" } } }));

  const d3Ticks = [0, 50, 100, 150, 200, 250];
  const d3 = addGrid(
    499.3, 727.7, 680.7, 858.3,
    {
      type: "value", min: -9.3, max: 254.8, axisLine: { show: false },
      axisTick: tickStyle(2.5, d3Ticks),
      axisLabel: { customValues: d3Ticks, fontSize: 7, margin: 2, color: "#111", fontFamily: SANS },
      name: "Time (months)", nameLocation: "middle", nameGap: 14, nameTextStyle: { fontSize: 8, color: "#111", fontFamily: SANS },
    },
    {
      type: "value", min: -0.056, max: 1.046, axisLine: { show: false },
      axisTick: tickStyle(2.5, [0, 0.2, 0.4, 0.6, 0.8, 1]),
      axisLabel: { customValues: [0, 0.2, 0.4, 0.6, 0.8, 1], rotate: 90, fontSize: 7, margin: 5, color: "#111", fontFamily: SANS, formatter: (v: number) => v.toFixed(1) },
      name: "Probability", nameLocation: "middle", nameGap: 21, nameTextStyle: { fontSize: 8, color: "#111", fontFamily: SANS },
    },
    "#333"
  );
  series.push(kmLine(d3, d3Low, "#1a1a1a", 1), kmLine(d3, d3High, "#ff2a2a", 1));
  series.push(censor(d3, d3LowCensor, "#1a1a1a", 3.5), censor(d3, d3HighCensor, "#ff2a2a", 3.5));
  graphics.push(T("HR = 0.56 (0.39 \u2212 0.8)", 676, 735, { size: 7, align: "right" }));
  graphics.push(T("logrank P = 0.0013", 676, 743.3, { size: 7, align: "right" }));
  graphics.push(T("KM plotter", 561.7, 738.3, { size: 8, serif: true }));
  graphics.push(T("BTNL9 expression", 504.3, 830.5, { size: 7, align: "left" }));
  graphics.push(L(506.7, 840.4, 525, 840.4, "#666", 1.3), T("low", 528.3, 840.4, { size: 6.3, align: "left" }));
  graphics.push(L(506.7, 848, 525, 848, "#ff2a2a", 1.3), T("high", 528.3, 848, { size: 6.3, align: "left" }));
  graphics.push(T("Number at risk", 498.5, 880, { size: 4, align: "left" }));

  const rk = addGrid(
    499.3, 882.4, 680.7, 893,
    { type: "value", min: -9.3, max: 254.8, axisLine: { show: false }, axisTick: { show: false }, axisLabel: { show: false } },
    {
      type: "category", data: ["high", "low"], axisLine: { show: false }, axisTick: { show: false },
      axisLabel: { fontSize: 4.5, margin: 11, fontFamily: SANS, color: (v: string) => (v === "high" ? "#ff2020" : "#111") },
    }
  );
  const riskSeries = (row: string, vals: number[], color: string) => ({
    type: "scatter", xAxisIndex: rk, yAxisIndex: rk, symbolSize: 1, silent: true, itemStyle: { color: "rgba(0,0,0,0)" },
    data: riskTimes.map((t, i) => [t, row, vals[i]]),
    label: { show: true, position: "inside", formatter: (p: any) => String(p.value[2]), fontSize: 4.5, color, fontFamily: SANS },
  });
  series.push(riskSeries("low", riskLow, "#111"), riskSeries("high", riskHigh, "#ff2020"));

  /* ---------- panel letters ---------- */
  graphics.push(T("A", 2, 5, { size: 9, serif: true, align: "left", color: "#333" }));
  graphics.push(T("B", 128, 401.7, { size: 10, serif: true, align: "left", color: "#333" }));
  graphics.push(T("C", 452, 408.3, { size: 10, serif: true, align: "left", color: "#333" }));
  graphics.push(T("D", 19, 678.3, { size: 10, serif: true, align: "left", color: "#333" }));

  return {
    animation: false,
    backgroundColor: "#fff",
    textStyle: { fontFamily: SANS },
    grid: grids,
    xAxis: xAxes,
    yAxis: yAxes,
    series,
    graphic: { elements: graphics },
  };
}

export default function App() {
  const ref = useRef<HTMLDivElement>(null);
  useEffect(() => {
    if (!ref.current) return;
    const chart = echarts.init(ref.current, null, { renderer: "svg" });
    chart.setOption(buildOption() as any);
    return () => chart.dispose();
  }, []);
  return <div ref={ref} style={{ position: "absolute", left: 0, top: 0, width: 685, height: 894, background: "#fff" }} />;
}
